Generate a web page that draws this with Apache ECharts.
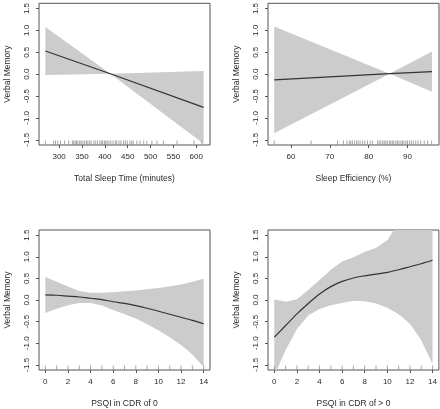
<!DOCTYPE html>
<html>
<head>
<meta charset="utf-8">
<script src="https://cdn.jsdelivr.net/npm/echarts@6/dist/echarts.min.js"></script>
<style>html,body{margin:0;padding:0;background:#fff;}#c{width:440px;height:409px;}</style>
</head>
<body>
<div id="c"></div>
<script>
// ---- Panel 1: Total Sleep Time ----
const tstX   = [270, 412, 616];
const tstFit = [0.53, 0.01, -0.76];
const tstLo  = [-0.02, 0.01, -1.59];
const tstHi  = [1.08, 0.01, 0.07];
const tstRug = [270, 288, 292, 297, 303, 312, 321, 329, 332, 335, 338, 341, 345, 348, 352, 356, 360, 363, 367, 370, 376, 380, 384, 389, 392, 395, 399, 402, 405, 409, 413, 418, 423, 426, 431, 435, 441, 445, 449, 455, 459, 462, 470, 477, 485, 492, 503, 514, 528, 558, 595, 612];
const tstTicks = [300, 350, 400, 450, 500, 550, 600];

// ---- Panel 2: Sleep Efficiency ----
const seX   = [55.7, 85.4, 96.3];
const seFit = [-0.13, 0.01, 0.06];
const seLo  = [-1.35, 0.01, -0.40];
const seHi  = [1.09, 0.01, 0.52];
const seRug = [55.7, 65.2, 72.0, 73.5, 74.4, 75.0, 75.4, 75.8, 76.4, 76.9, 77.3, 77.8, 78.4, 79.0, 79.7, 80.4, 81.0, 82.3, 82.7, 83.1, 83.6, 84.0, 84.4, 84.8, 85.3, 85.7, 86.1, 86.5, 87.0, 87.4, 87.8, 88.3, 88.7, 89.1, 89.6, 90.0, 90.5, 91.0, 91.5, 92.1, 92.7, 93.4, 94.3, 95.2, 96.2];
const seTicks = [60, 70, 80, 90];

// ---- Panel 3: PSQI in CDR of 0 ----
const p0X   = [0, 1, 2, 3, 4, 5, 6, 7, 8, 9, 10, 11, 12, 13, 14];
const p0Fit = [0.12, 0.11, 0.09, 0.07, 0.04, 0.01, -0.04, -0.08, -0.13, -0.19, -0.26, -0.33, -0.40, -0.47, -0.55];
const p0Lo  = [-0.30, -0.20, -0.12, -0.07, -0.07, -0.13, -0.23, -0.33, -0.43, -0.56, -0.70, -0.86, -1.04, -1.26, -1.55];
const p0Hi  = [0.53, 0.42, 0.31, 0.21, 0.17, 0.17, 0.18, 0.20, 0.22, 0.25, 0.28, 0.32, 0.36, 0.42, 0.49];
const p0Rug = [0, 1, 2, 3, 4, 5, 6, 7, 8, 9, 10, 11, 12, 13, 14];

// ---- Panel 4: PSQI in CDR of > 0 ----
const p1X   = [0, 1, 2, 3, 4, 5, 6, 7, 8, 9, 10, 11, 12, 13, 14];
const p1Fit = [-0.86, -0.59, -0.32, -0.08, 0.14, 0.31, 0.43, 0.51, 0.56, 0.60, 0.64, 0.70, 0.77, 0.84, 0.92];
const p1Lo  = [-1.75, -1.16, -0.67, -0.36, -0.21, -0.12, -0.07, -0.02, -0.03, -0.08, -0.18, -0.33, -0.55, -0.93, -1.48];
const p1Hi  = [0.02, -0.04, 0.02, 0.23, 0.46, 0.70, 0.89, 0.99, 1.11, 1.21, 1.38, 1.80, 2.17, 2.71, 3.32];
const p1Rug = [0, 1, 2, 3, 4, 5, 6, 7, 8, 9, 10, 11, 12, 13, 14];

const psqiTicks = [0, 2, 4, 6, 8, 10, 12, 14];
const yTicks = [-1.5, -1.0, -0.5, 0.0, 0.5, 1.0, 1.5];
const yName = 'Verbal Memory';

const panels = [
  {x: tstX, fit: tstFit, lo: tstLo, hi: tstHi, rug: tstRug, ticks: tstTicks, min: 256, max: 630, name: 'Total Sleep Time (minutes)', smooth: false},
  {x: seX, fit: seFit, lo: seLo, hi: seHi, rug: seRug, ticks: seTicks, min: 54.1, max: 98.1, name: 'Sleep Efficiency (%)', smooth: false},
  {x: p0X, fit: p0Fit, lo: p0Lo, hi: p0Hi, rug: p0Rug, ticks: psqiTicks, min: -0.56, max: 14.56, name: 'PSQI in CDR of 0', smooth: 0.3},
  {x: p1X, fit: p1Fit, lo: p1Lo, hi: p1Hi, rug: p1Rug, ticks: psqiTicks, min: -0.56, max: 14.56, name: 'PSQI in CDR of > 0', smooth: 0.3}
];

const gridPos = [
  {left: 39, top: 2, width: 171, height: 143},
  {left: 268, top: 2, width: 171, height: 143},
  {left: 39, top: 230, width: 171, height: 142},
  {left: 268, top: 230, width: 171, height: 142}
];

const YMIN = -1.62, YMAX = 1.62;
const FONT = 'Liberation Sans, Arial, sans-serif';
const TXT = '#2a2a2a';

const grid = [], xAxis = [], yAxis = [], series = [];
panels.forEach((p, i) => {
  grid.push(Object.assign({show: true, borderColor: '#555', borderWidth: 1, backgroundColor: 'transparent'}, gridPos[i]));
  xAxis.push({
    type: 'value', gridIndex: i, min: p.min, max: p.max, position: 'bottom',
    name: p.name, nameLocation: 'middle', nameGap: 29,
    nameTextStyle: {fontFamily: FONT, fontSize: 8.5, color: TXT},
    axisLine: {show: false, onZero: false},
    axisTick: {show: true, inside: false, length: 3, customValues: p.ticks, lineStyle: {color: '#555', width: 1}},
    axisLabel: {show: true, customValues: p.ticks, margin: 8, fontFamily: FONT, fontSize: 8, color: TXT},
    splitLine: {show: false}
  });
  yAxis.push({
    type: 'value', gridIndex: i, min: YMIN, max: YMAX, position: 'left',
    name: yName, nameLocation: 'middle', nameGap: 27, nameRotate: 90,
    nameTextStyle: {fontFamily: FONT, fontSize: 8.5, color: TXT},
    axisLine: {show: false, onZero: false},
    axisTick: {show: true, inside: false, length: 3, customValues: yTicks, lineStyle: {color: '#555', width: 1}},
    axisLabel: {show: true, customValues: yTicks, rotate: 90, margin: 8, fontFamily: FONT, fontSize: 8, color: TXT,
      formatter: v => Number(v).toFixed(1)},
    splitLine: {show: false}
  });
  // confidence band polygon
  series.push({
    type: 'custom', xAxisIndex: i, yAxisIndex: i, clip: true, silent: true, z: 1,
    data: [[p.x[0], p.fit[0]]],
    renderItem: (params, api) => {
      const pts = [];
      for (let k = 0; k < p.x.length; k++) pts.push(api.coord([p.x[k], p.hi[k]]));
      for (let k = p.x.length - 1; k >= 0; k--) pts.push(api.coord([p.x[k], p.lo[k]]));
      const cs = params.coordSys;
      return {
        type: 'polygon',
        shape: {points: pts},
        style: {fill: '#cccccc', stroke: null},
        clipPath: {type: 'rect', shape: {x: cs.x, y: cs.y, width: cs.width, height: cs.height}}
      };
    }
  });
  // fitted line
  series.push({
    type: 'line', xAxisIndex: i, yAxisIndex: i, symbol: 'none', smooth: p.smooth, silent: true, z: 3,
    data: p.x.map((v, k) => [v, p.fit[k]]),
    lineStyle: {color: '#333', width: 1.2}
  });
  // rug
  series.push({
    type: 'custom', xAxisIndex: i, yAxisIndex: i, silent: true, z: 2,
    data: p.rug.map(v => [v]),
    renderItem: (params, api) => {
      const pt = api.coord([api.value(0), YMIN]);
      return {type: 'line', shape: {x1: pt[0], y1: pt[1], x2: pt[0], y2: pt[1] - 4.5},
        style: {stroke: '#8f8f8f', lineWidth: 0.8}};
    }
  });
});

const chart = echarts.init(document.getElementById('c'), null, {renderer: 'canvas'});
chart.setOption({animation: false, backgroundColor: '#fff', grid, xAxis, yAxis, series});
</script>
</body>
</html>
